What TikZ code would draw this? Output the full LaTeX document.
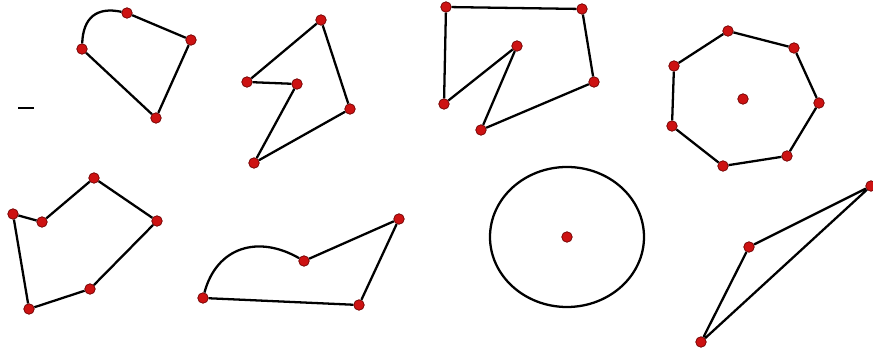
\documentclass[tikz,border=0pt]{standalone}
\usepackage{tikz}
\usetikzlibrary{positioning}
\definecolor{dotRed}{RGB}{205,18,18}
\definecolor{dotRim}{RGB}{110,0,0}

\begin{document}
\begin{tikzpicture}[
    x=0.02cm, y=0.02cm,
    edge/.style={line width=1.3pt, black},
    dot/.style={circle, inner sep=0pt, minimum size=6pt, fill=dotRed, draw=dotRim, line width=0.4pt}
  ]

  \useasboundingbox (0,0) rectangle (873,-350);

  % -------- TOP ROW --------
  % четырёхугольник с дугой
  \node[dot] (fanA) at (82,-49) {};
  \node[dot] (fanB) at (127,-13) {};
  \node[dot] (fanC) at (191,-40) {};
  \node[dot] (fanD) at (156,-118) {};
  \draw[edge] (fanA) to[out=88, in=168, looseness=1.3] (fanB);
  \draw[edge] (fanB) -- (fanC) -- (fanD) -- (fanA);

  % штрих слева
  \draw[line width=1.6pt] (18,-108) -- (34,-108);

  % зигзаг
  \node[dot] (zigT) at (321,-20) {};
  \node[dot] (zigL) at (247,-82) {};
  \node[dot] (zigM) at (297,-84) {};
  \node[dot] (zigB) at (254,-163) {};
  \node[dot] (zigR) at (350,-109) {};
  \draw[edge] (zigT) -- (zigL) -- (zigM) -- (zigB) -- (zigR) -- (zigT);

  % шестиугольник с вырезом
  \node[dot] (notchTL) at (446,-7) {};
  \node[dot] (notchTR) at (582,-9) {};
  \node[dot] (notchR) at (594,-82) {};
  \node[dot] (notchB) at (481,-130) {};
  \node[dot] (notchM) at (517,-46) {};
  \node[dot] (notchBL) at (444,-104) {};
  \draw[edge] (notchTL) -- (notchTR) -- (notchR) -- (notchB) -- (notchM) -- (notchBL) -- (notchTL);

  % семиугольник и центр
  \foreach \i/\px/\py in {1/728/31, 2/794/48, 3/819/103, 4/787/156, 5/723/166, 6/672/126, 7/674/66}
    \node[dot] (hep\i) at (\px,-\py) {};
  \node[dot] (hepC) at (743,-99) {};
  \draw[edge] (hep1) -- (hep2) -- (hep3) -- (hep4) -- (hep5) -- (hep6) -- (hep7) -- (hep1);

  % -------- BOTTOM ROW --------
  % невыпуклый шестиугольник
  \node[dot] (hexT) at (94,-178) {};
  \node[dot] (hexR) at (157,-221) {};
  \node[dot] (hexM) at (90,-289) {};
  \node[dot] (hexB) at (29,-309) {};
  \node[dot] (hexL) at (13,-214) {};
  \node[dot] (hexI) at (42,-222) {};
  \draw[edge] (hexT) -- (hexR) -- (hexM) -- (hexB) -- (hexL) -- (hexI) -- (hexT);

  % фигура с горбом
  \node[dot] (humpL) at (203,-298) {};
  \node[dot] (humpM) at (304,-261) {};
  \node[dot] (humpT) at (399,-219) {};
  \node[dot] (humpB) at (359,-305) {};
  \draw[edge] (humpL) to[out=75, in=150, looseness=1.2] (humpM);
  \draw[edge] (humpM) -- (humpT) -- (humpB) -- (humpL);

  % окружность
  \node[dot] (circC) at (567,-237) {};
  \draw[edge] (circC.center) ellipse [x radius=77, y radius=70];

  % узкий треугольник
  \node[dot] (triR) at (871,-186) {};
  \node[dot] (triM) at (749,-247) {};
  \node[dot] (triB) at (701,-342) {};
  \draw[edge] (triM) -- (triR) -- (triB) -- (triM);

\end{tikzpicture}
\end{document}
